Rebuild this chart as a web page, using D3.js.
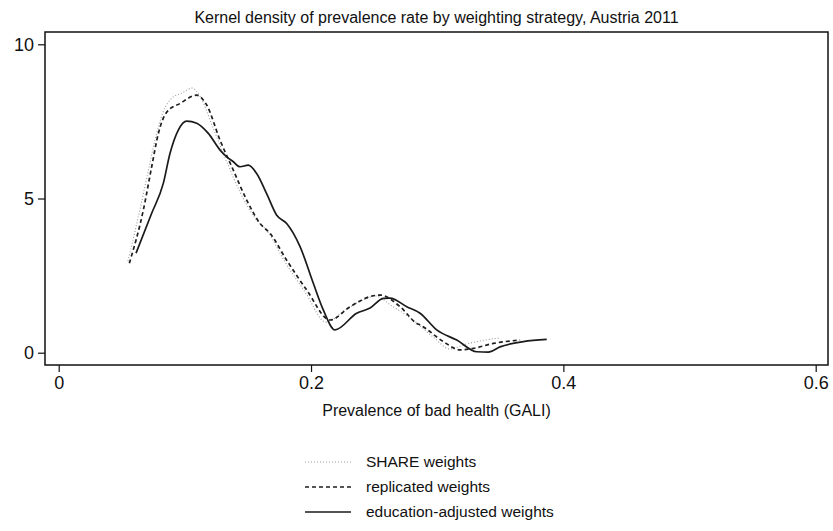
<!DOCTYPE html>
<html>
<head>
<meta charset="utf-8">
<script src="https://cdn.jsdelivr.net/npm/d3@7"></script>
<style>
  html, body { margin: 0; padding: 0; background: #fff; }
  svg { display: block; font-family: "Liberation Sans", Arial, sans-serif; }
</style>
</head>
<body>
<svg id="chart" width="833" height="531"></svg>
<script>
// Kernel density estimates of the regional prevalence rate of bad health (GALI)
// under three weighting strategies, Austria 2011.
const shareX = [0.0549, 0.0652, 0.0708, 0.0763, 0.0827, 0.0898, 0.0977, 0.1057, 0.1120, 0.1215, 0.1326, 0.1437, 0.1556, 0.1659, 0.1794, 0.1953, 0.2119, 0.2270, 0.2428, 0.2508, 0.2643, 0.2809, 0.2967, 0.3102, 0.3229, 0.3340, 0.3498];
const shareY = [2.97, 4.79, 5.86, 6.89, 7.80, 8.26, 8.42, 8.58, 8.32, 7.38, 6.25, 5.21, 4.37, 3.91, 2.94, 1.97, 0.99, 1.38, 1.74, 1.84, 1.51, 1.06, 0.51, 0.12, 0.28, 0.38, 0.48];

const replX = [0.0560, 0.0671, 0.0737, 0.0790, 0.0856, 0.0962, 0.1094, 0.1173, 0.1279, 0.1384, 0.1490, 0.1596, 0.1675, 0.1807, 0.1966, 0.2151, 0.2309, 0.2468, 0.2547, 0.2706, 0.2838, 0.2864, 0.3049, 0.3181, 0.3287, 0.3445, 0.3657];
const replY = [2.90, 4.63, 6.03, 7.11, 7.80, 8.08, 8.35, 8.03, 6.89, 5.92, 4.95, 4.19, 3.87, 3.00, 2.03, 1.06, 1.49, 1.82, 1.87, 1.49, 0.95, 0.90, 0.36, 0.09, 0.14, 0.30, 0.41];

const eduX = [0.0613, 0.0737, 0.0829, 0.0882, 0.0948, 0.1015, 0.1094, 0.1186, 0.1279, 0.1332, 0.1384, 0.1437, 0.1503, 0.1569, 0.1648, 0.1728, 0.1807, 0.1913, 0.2018, 0.2097, 0.2190, 0.2362, 0.2468, 0.2573, 0.2626, 0.2759, 0.2864, 0.2996, 0.3155, 0.3314, 0.3405, 0.3498, 0.3683, 0.3868];
const eduY = [3.23, 4.52, 5.49, 6.46, 7.22, 7.51, 7.44, 7.11, 6.57, 6.35, 6.19, 6.03, 6.08, 5.81, 5.16, 4.46, 4.19, 3.44, 2.25, 1.39, 0.74, 1.28, 1.45, 1.76, 1.77, 1.49, 1.28, 0.74, 0.41, 0.03, 0.02, 0.19, 0.36, 0.43];

const xTicks = [0, 0.2, 0.4, 0.6];
const xTickLabels = ["0", "0.2", "0.4", "0.6"];
const yTicks = [0, 5, 10];
const yTickLabels = ["0", "5", "10"];

const seriesNames = ["SHARE weights", "replicated weights", "education-adjusted weights"];
const titleText = "Kernel density of prevalence rate by weighting strategy, Austria 2011";
const xTitle = "Prevalence of bad health (GALI)";

const series = [
  { name: seriesNames[0], x: shareX, y: shareY, stroke: "#9a9a9a", width: 1.1, dash: "1,2" },
  { name: seriesNames[1], x: replX, y: replY, stroke: "#1e1e1e", width: 1.7, dash: "4,3" },
  { name: seriesNames[2], x: eduX, y: eduY, stroke: "#1a1a1a", width: 1.7, dash: null }
];

const svg = d3.select("#chart");
const frame = { left: 45, top: 32, right: 828, bottom: 365 };

const x = d3.scaleLinear().domain([0, 0.6]).range([58.7, 815.7]);
const y = d3.scaleLinear().domain([0, 10]).range([352.7, 44.3]);

// plot frame
svg.append("rect")
  .attr("x", frame.left).attr("y", frame.top)
  .attr("width", frame.right - frame.left).attr("height", frame.bottom - frame.top)
  .attr("fill", "none").attr("stroke", "#111").attr("stroke-width", 1.5);

// title
svg.append("text")
  .attr("x", (frame.left + frame.right) / 2).attr("y", 23)
  .attr("text-anchor", "middle")
  .attr("font-size", 16).attr("fill", "#111")
  .text(titleText);

// axes
const xAxis = d3.axisBottom(x).tickValues(xTicks)
  .tickFormat((d, i) => xTickLabels[i]).tickSize(7).tickPadding(4);
const gx = svg.append("g").attr("transform", `translate(0,${frame.bottom})`).call(xAxis);
gx.select(".domain").remove();
gx.selectAll("line").attr("stroke", "#111").attr("stroke-width", 1.2);
gx.selectAll("text").attr("font-size", 18).attr("fill", "#111")
  .attr("font-family", "Liberation Sans, Arial, sans-serif");

const yAxis = d3.axisLeft(y).tickValues(yTicks)
  .tickFormat((d, i) => yTickLabels[i]).tickSize(7).tickPadding(4);
const gy = svg.append("g").attr("transform", `translate(${frame.left},0)`).call(yAxis);
gy.select(".domain").remove();
gy.selectAll("line").attr("stroke", "#111").attr("stroke-width", 1.2);
gy.selectAll("text").attr("font-size", 18).attr("fill", "#111")
  .attr("font-family", "Liberation Sans, Arial, sans-serif");

// x axis title
svg.append("text")
  .attr("x", (frame.left + frame.right) / 2).attr("y", 416)
  .attr("text-anchor", "middle")
  .attr("font-size", 16).attr("fill", "#111")
  .text(xTitle);

// density curves
const line = d3.line().x(d => x(d[0])).y(d => y(d[1])).curve(d3.curveMonotoneX);
series.forEach(s => {
  const pts = s.x.map((v, i) => [v, s.y[i]]);
  svg.append("path")
    .datum(pts)
    .attr("d", line)
    .attr("fill", "none")
    .attr("stroke", s.stroke)
    .attr("stroke-width", s.width)
    .attr("stroke-dasharray", s.dash)
    .attr("stroke-linejoin", "round");
});

// legend
const legend = svg.append("g");
series.forEach((s, i) => {
  const ly = 462 + i * 25;
  legend.append("line")
    .attr("x1", 305).attr("x2", 351).attr("y1", ly).attr("y2", ly)
    .attr("stroke", s.stroke).attr("stroke-width", s.width)
    .attr("stroke-dasharray", s.dash);
  legend.append("text")
    .attr("x", 366).attr("y", ly).attr("dy", "0.35em")
    .attr("font-size", 15.5).attr("fill", "#111")
    .text(s.name);
});
</script>
</body>
</html>
